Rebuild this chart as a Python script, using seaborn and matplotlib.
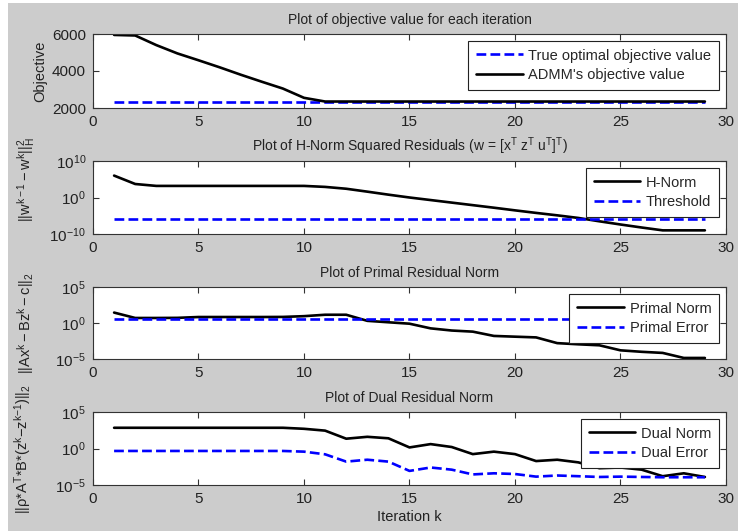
import numpy as np
import pandas as pd
import matplotlib
matplotlib.use("Agg")
import matplotlib.pyplot as plt
import seaborn as sns
from matplotlib.patches import Rectangle

# ---------------- data ----------------
iters = list(range(1, 30))

admm_obj = [5950, 5920, 5400, 4950, 4580, 4200, 3800, 3420, 3050, 2550,
            2350, 2350, 2350, 2350, 2350, 2350, 2350, 2350, 2350, 2350,
            2350, 2350, 2350, 2350, 2350, 2350, 2350, 2350, 2350]
true_obj = [2350] * 29

h_norm = [1e6, 5e3, 1.5e3, 1.5e3, 1.5e3, 1.5e3, 1.5e3, 1.5e3, 1.5e3, 1.5e3,
          8e2, 2.5e2, 4e1, 6e0, 1e0, 2e-1, 4e-2, 8e-3, 1.6e-3, 3e-4,
          6e-5, 1.3e-5, 2.5e-6, 3e-7, 4e-8, 6e-9, 1e-9, 1e-9, 1e-9]
threshold = [1e-6] * 29

primal_norm = [28, 5.0, 5.0, 5.2, 6.8, 6.8, 6.8, 6.8, 7.0, 8.9,
               14, 14, 2.0, 1.26, 0.8, 0.18, 0.09, 0.063, 0.016, 0.0126,
               0.01, 1.6e-3, 1.1e-3, 8e-4, 1.6e-4, 1e-4, 7e-5, 1.4e-5, 1.4e-5]
primal_error = [4.0] * 29

dual_norm = [690, 690, 690, 690, 690, 690, 690, 690, 690, 500,
             280, 22, 40, 25, 1.4, 4.0, 1.6, 0.17, 0.37, 0.17,
             0.019, 0.029, 0.0126, 2e-3, 2.5e-3, 1.26e-3, 1.6e-4, 4e-4, 1.26e-4]
dual_error = [0.46, 0.46, 0.46, 0.46, 0.46, 0.46, 0.46, 0.46, 0.46, 0.37,
              0.16, 0.016, 0.029, 0.016, 8.5e-4, 2.5e-3, 1.26e-3, 2.8e-4, 4e-4, 3.2e-4,
              1.4e-4, 2e-4, 1.6e-4, 1.26e-4, 1.4e-4, 1.26e-4, 1.15e-4, 1.15e-4, 1.15e-4]

x_ticks = [0, 5, 10, 15, 20, 25, 30]

# ---------------- style ----------------
sns.set_style("ticks")
FONT = ["Liberation Sans", "DejaVu Sans"]
plt.rcParams["font.family"] = FONT
plt.rcParams["mathtext.fontset"] = "custom"
plt.rcParams["mathtext.rm"] = "Liberation Sans"
plt.rcParams["mathtext.it"] = "Liberation Sans"
plt.rcParams["mathtext.default"] = "regular"
FS = 10.5
TICK_FS = 11
TITLE_FS = 10
TXT = "#222222"
plt.rcParams.update({
    "font.size": FS,
    "xtick.direction": "in", "ytick.direction": "in",
    "xtick.top": True, "ytick.right": True,
    "xtick.major.size": 4.5, "ytick.major.size": 4.5,
    "xtick.minor.size": 0, "ytick.minor.size": 0,
    "xtick.color": "#333333", "ytick.color": "#333333",
    "xtick.labelcolor": TXT, "ytick.labelcolor": TXT,
    "axes.edgecolor": "#333333", "axes.linewidth": 0.8,
    "xtick.major.width": 0.8, "ytick.major.width": 0.8,
    "axes.labelcolor": TXT,
})

W, H = 738, 531
fig = plt.figure(figsize=(W / 100, H / 100), dpi=100)
fig.patch.set_facecolor("white")
fig.add_artist(Rectangle((8 / W, 0), 1, (H - 3) / H, transform=fig.transFigure,
                         facecolor="#cccccc", edgecolor="none", zorder=-10))

left = 93 / W
width = (726 - 93) / W
boxes = [(34, 108), (161, 234), (287, 359), (412, 485)]
axes = []
for top, bot in boxes:
    ax = fig.add_axes([left, (H - bot) / H, width, (bot - top) / H])
    ax.set_facecolor("white")
    axes.append(ax)

BLUE = "#0000ff"
LW = 1.9

def finish(ax, title, ylabel, ylx, yly=0.5):
    ax.set_xlim(0, 30)
    ax.set_xticks(x_ticks)
    ax.set_title(title, fontsize=TITLE_FS, color=TXT, pad=7)
    ax.set_ylabel(ylabel, fontsize=FS)
    ax.yaxis.set_label_coords(ylx, yly)
    ax.tick_params(labelsize=TICK_FS, pad=5)
    leg = ax.legend(loc="upper right", fontsize=FS, frameon=True, fancybox=False,
                    framealpha=1, edgecolor="#222222", handlelength=3.2,
                    handletextpad=0.4, labelspacing=0.35, borderpad=0.55,
                    borderaxespad=0.45)
    leg.get_frame().set_linewidth(0.8)
    for sp in ax.spines.values():
        sp.set_visible(True)

# Panel 1
ax = axes[0]
sns.lineplot(x=iters, y=true_obj, ax=ax, color=BLUE, linestyle="--", lw=LW,
             label="True optimal objective value")
sns.lineplot(x=iters, y=admm_obj, ax=ax, color="black", lw=LW,
             label="ADMM's objective value")
ax.set_ylim(2000, 6000)
ax.set_yticks([2000, 4000, 6000])
finish(ax, "Plot of objective value for each iteration", "Objective", -0.073)

# Panel 2
ax = axes[1]
sns.lineplot(x=iters, y=h_norm, ax=ax, color="black", lw=LW, label="H-Norm")
sns.lineplot(x=iters, y=threshold, ax=ax, color=BLUE, linestyle="--", lw=LW,
             label="Threshold")
ax.set_yscale("log")
ax.set_ylim(1e-10, 1e10)
ax.set_yticks([1e-10, 1e0, 1e10])
ax.yaxis.set_minor_locator(matplotlib.ticker.NullLocator())
finish(ax, r"Plot of H-Norm Squared Residuals (w = [x$^T$ z$^T$ u$^T$]$^T$)",
       r"$||w^{k - 1} - w^k||_H^2$", -0.088, 0.75)

# Panel 3
ax = axes[2]
sns.lineplot(x=iters, y=primal_norm, ax=ax, color="black", lw=LW, label="Primal Norm")
sns.lineplot(x=iters, y=primal_error, ax=ax, color=BLUE, linestyle="--", lw=LW,
             label="Primal Error")
ax.set_yscale("log")
ax.set_ylim(1e-5, 1e5)
ax.set_yticks([1e-5, 1e0, 1e5])
ax.yaxis.set_minor_locator(matplotlib.ticker.NullLocator())
finish(ax, "Plot of Primal Residual Norm", r"$||Ax^k - Bz^k - c||_2$", -0.09)

# Panel 4
ax = axes[3]
sns.lineplot(x=iters, y=dual_norm, ax=ax, color="black", lw=LW, label="Dual Norm")
sns.lineplot(x=iters, y=dual_error, ax=ax, color=BLUE, linestyle="--", lw=LW,
             label="Dual Error")
ax.set_yscale("log")
ax.set_ylim(1e-5, 1e5)
ax.set_yticks([1e-5, 1e0, 1e5])
ax.yaxis.set_minor_locator(matplotlib.ticker.NullLocator())
finish(ax, "Plot of Dual Residual Norm",
       r"$||\rho{*}A^T{*}B{*}(z^k{-}z^{k{-}1})||_2$", -0.095)
ax.set_xlabel("Iteration k", fontsize=FS, labelpad=3)

fig.savefig("out.png", dpi=100, facecolor=fig.get_facecolor())
